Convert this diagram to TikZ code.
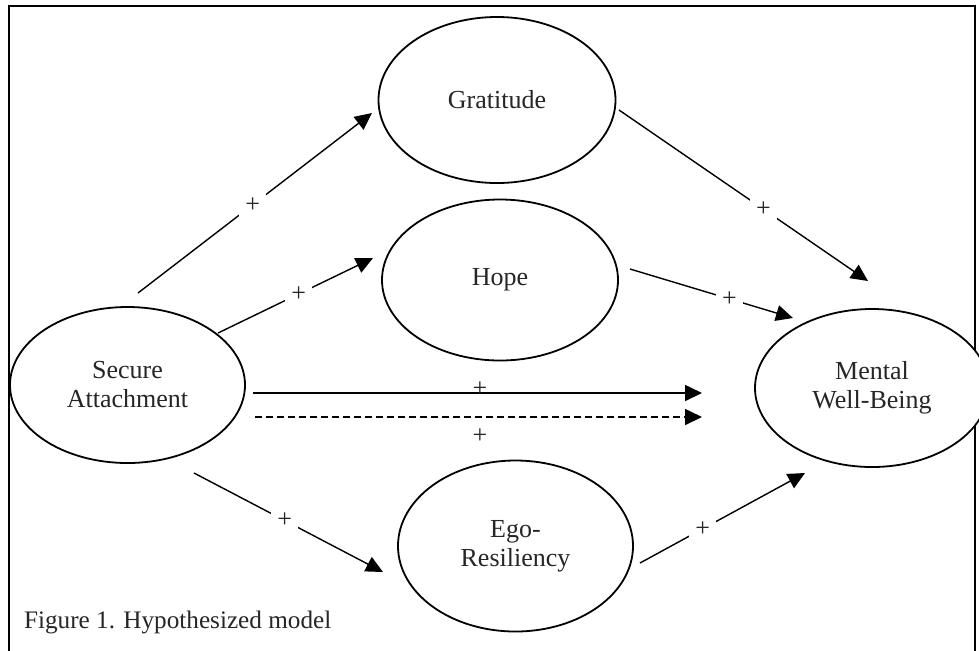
\documentclass[tikz,border=0pt]{standalone}
\usepackage{fontspec}
\setmainfont{Liberation Serif}
\usetikzlibrary{shapes.geometric,arrows.meta}

\begin{document}
\begin{tikzpicture}[x=0.5pt,y=-0.5pt]
    \tikzset{%
      latent/.style={ellipse, draw, line width=0.9pt, fill=white, inner
        sep=0pt, align=center, text=black!85,
        font=\fontsize{13}{14.5}\selectfont},
      path/.style={line width=0.7pt, -{Triangle[length=8.5pt,width=8pt]}},
      plus/.style={fill=white, inner sep=3pt, text=black!85,
        font=\fontsize{13}{14.5}\selectfont},
    }
    \useasboundingbox (0,0) rectangle (979,650);
    \clip (0,0) rectangle (979,650);
    \draw [line width=1.1pt] (9,6) rectangle (975,690);

    \node[latent, minimum width=117.5pt, minimum height=78pt] (S) at (127.5,385) {Secure\\Attachment};
    \node[latent, minimum width=118.5pt, minimum height=83pt] (G) at (497,100) {Gratitude};
    \node[latent, minimum width=118pt, minimum height=80.5pt] (H) at (500,280) {Hope};
    \node[latent, minimum width=117.5pt, minimum height=85.5pt] (E) at (515.5,546) {Ego-\\Resiliency};
    \node[latent, minimum width=117pt, minimum height=79pt] (M) at (872,388) {Mental\\Well-Being};

    % free ends of the paths
    \coordinate (S1) at (138,293);
    \coordinate (S2) at (218,333);
    \coordinate (S3) at (253,393);
    \coordinate (S4) at (255,417);
    \coordinate (S5) at (194,473);
    \coordinate (G0) at (372,113);
    \coordinate (G1) at (619,110);
    \coordinate (H0) at (373,258);
    \coordinate (H1) at (630,269);
    \coordinate (E0) at (383,572);
    \coordinate (E1) at (640,563);
    \coordinate (M1) at (868,281);
    \coordinate (M2) at (793,318);
    \coordinate (M3) at (702,393);
    \coordinate (M4) at (702,417);
    \coordinate (M5) at (805,473);

    \draw [path] (S1) -- node[plus, pos=0.49] {+} (G0);
    \draw [path] (S2) -- node[plus, pos=0.52] {+} (H0);
    \draw [path] (S5) -- node[plus, pos=0.48] {+} (E0);
    \draw [path] (G1) -- node[plus, pos=0.58] {+} (M1);
    \draw [path] (H1) -- node[plus, pos=0.61] {+} (M2);
    \draw [path] (E1) -- node[plus, pos=0.38] {+} (M5);

    \draw [path, line width=0.8pt] (S3) -- (M3);
    \node[plus, fill=none] (P3) at (480,389) {+};
    \draw [path, line width=0.8pt, dash pattern=on 3.5pt off 2pt] (S4) -- (M4);
    \node[plus, fill=none] (P4) at (480,436) {+};

    \node [anchor=base west, text=black!85, font=\fontsize{12.6}{14}\selectfont] (cap) at (17,628) {Figure 1. Hypothesized model};
\end{tikzpicture}
\end{document}
